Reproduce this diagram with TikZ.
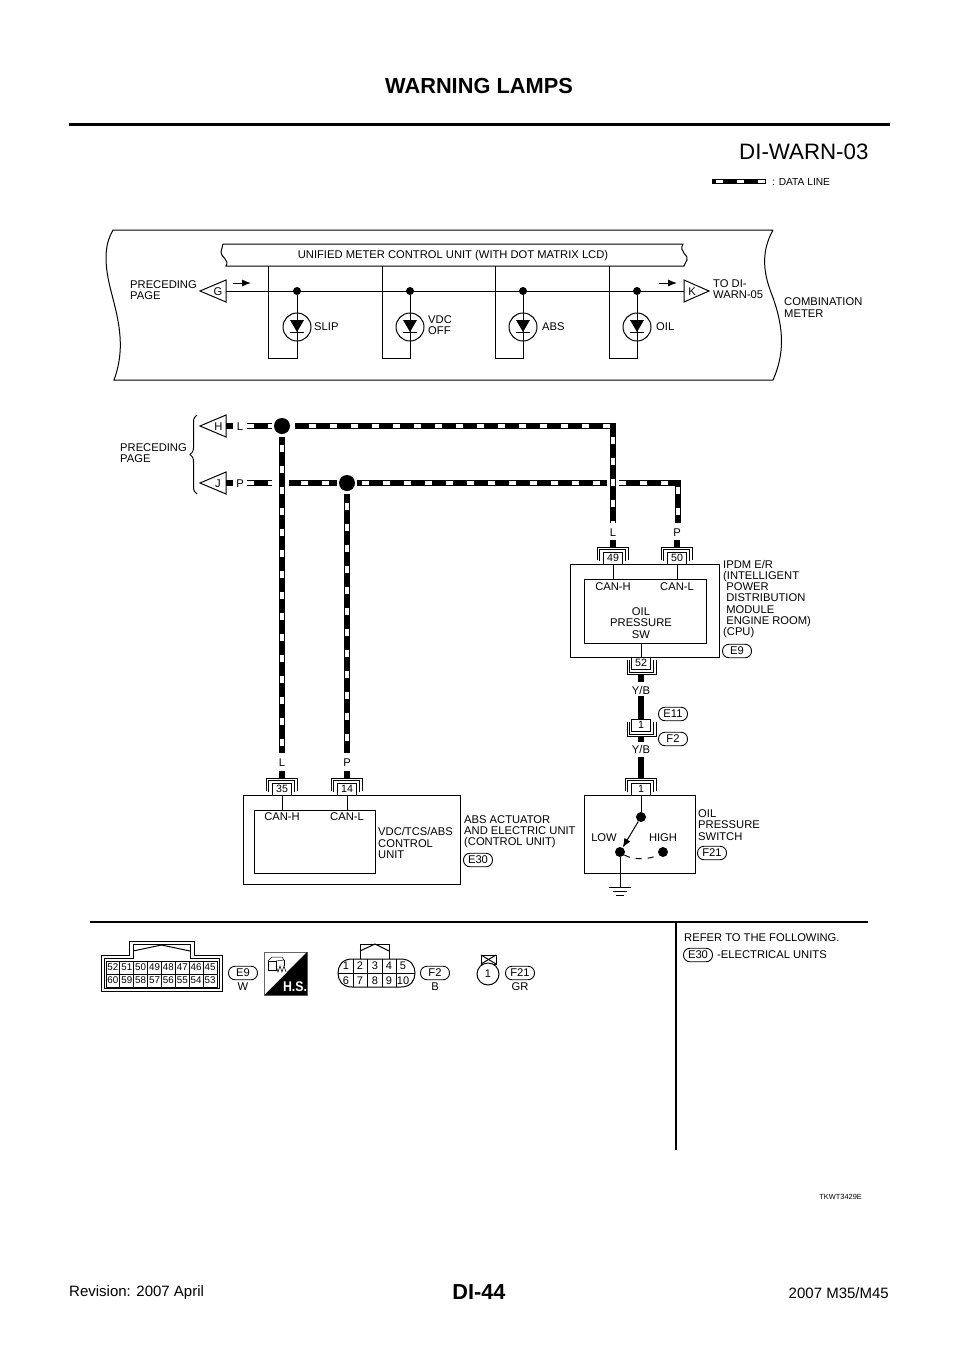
\documentclass[tikz,border=0pt]{standalone}
\usepackage{fontspec}
\setmainfont{Liberation Sans}
\usetikzlibrary{positioning,calc,arrows.meta,decorations.pathreplacing}
\tikzstyle{lab}= [inner sep=0pt, anchor=west, align=left, font=\fontsize{11.2}{11.2}\selectfont]
\tikzstyle{ctr}= [inner sep=0pt, align=center, font=\fontsize{11.2}{11.2}\selectfont]
\tikzstyle{tagoval}= [draw, rectangle, rounded corners=6.5pt, minimum width=29pt, minimum height=13.5pt, inner sep=0pt, font=\fontsize{11.2}{11.2}\selectfont, line width=0.9pt]
\tikzstyle{pin}= [draw, rectangle, minimum width=19pt, minimum height=12pt, inner sep=0pt, fill=white, font=\fontsize{10.6}{11}\selectfont, line width=0.9pt]
\tikzstyle{jdot}= [circle, fill=black, inner sep=0pt, minimum size=8pt]
\tikzstyle{sdot}= [circle, fill=black, inner sep=0pt, minimum size=10pt]
\tikzstyle{bigdot}= [circle, fill=black, inner sep=0pt, minimum size=16pt]
\tikzstyle{lamp}= [circle, draw, inner sep=0pt, minimum size=28pt, line width=1pt]
\tikzstyle{wire}= [line width=1pt]
\tikzstyle{frame}= [line width=1pt]
\tikzstyle{stub}= [line width=6pt]
\tikzstyle{dataline}[0]= [line width=6.6pt, postaction={draw=white, line width=4.4pt, dash pattern=on 7pt off 14pt, dash phase=#1}]
\tikzstyle{cell}= [inner sep=0pt, font=\fontsize{9.8}{10}\selectfont]
\begin{document}
\begin{tikzpicture}[x=1pt, y=-1pt]
	\useasboundingbox (0,0) rectangle (960,1358);
	% page head
	\node[inner sep=0pt, font=\fontsize{21.8}{24}\selectfont\bfseries] (title) at (479, 86) {WARNING LAMPS};
	\draw[line width=2.4pt] (69, 124.5) -- (890, 124.5);
	\node[inner sep=0pt, anchor=west, font=\fontsize{22.3}{24}\selectfont] (sheet) at (739, 152) {DI-WARN-03};
	\coordinate (legA) at (712, 181);
	\coordinate (legB) at (766, 181);
	\draw[line width=5pt, postaction={draw=white, line width=3pt, dash pattern=on 7pt off 14pt, dash phase=17}] (legA) -- (legB);
	\node[lab, font=\fontsize{10.2}{11}\selectfont] (legend) at (772, 181.5) {: DATA LINE};
	% combination meter
	\draw[frame] (773, 230) -- (113, 230)
		.. controls (106, 242) and (103, 258) .. (110, 287)
		.. controls (117, 315) and (127, 345) .. (114, 380)
		-- (773, 380)
		.. controls (784, 355) and (785, 330) .. (772, 295)
		.. controls (762, 270) and (762, 250) .. (773, 230);
	\draw[frame] (223, 244) -- (683, 244)
		.. controls (678, 252) and (690, 256) .. (687, 260)
		.. controls (686, 263) and (684, 264) .. (684, 266)
		-- (226, 266)
		.. controls (230, 260) and (220, 256) .. (221, 252)
		.. controls (221, 249) and (223, 247) .. (223, 244);
	\node[ctr] (unit) at (453, 256) {UNIFIED METER CONTROL UNIT (WITH DOT MATRIX LCD)};
	\draw[wire] (200, 291) -- (226, 280) -- (226, 302) -- cycle;
	\draw[wire] (709, 291) -- (684, 280) -- (684, 302) -- cycle;
	\node[ctr] (tagG) at (218, 291.5) {G};
	\node[ctr] (tagK) at (692, 291.5) {K};
	\coordinate (wireG) at (226, 291);
	\coordinate (wireK) at (684, 291);
	\draw[wire] (wireG) -- (wireK);
	\coordinate (arrGa) at (233, 283);
	\coordinate (arrGb) at (251, 283);
	\coordinate (arrKa) at (659, 283);
	\coordinate (arrKb) at (677, 283);
	\draw[wire, -{Latex[length=9pt,width=7pt]}] (arrGa) -- (arrGb);
	\draw[wire, -{Latex[length=9pt,width=7pt]}] (arrKa) -- (arrKb);
	\foreach \nm/\x/\xl in {slip/297/268, vdc/410/382, abs/523/495, oil/637/609}{
		\node[jdot] (d\nm) at (\x, 291) {};
		\node[lamp] (l\nm) at (\x, 327) {};
		\coordinate (f\nm) at (\x, 358);
		\coordinate (g\nm) at (\xl, 358);
		\coordinate (t\nm) at (\xl, 266);
		\draw[wire] (d\nm) -- (f\nm) -- (g\nm) -- (t\nm);
		\fill (\x-7, 320) -- (\x+7, 320) -- (\x, 332) -- cycle;
		\draw[wire] (\x-7, 332.5) -- (\x+7, 332.5);
	}
	\node[lab] (slip) at (314, 327) {SLIP};
	\node[lab] (vdcoff) at (428, 325.5) {VDC\\OFF};
	\node[lab] (absl) at (542, 327) {ABS};
	\node[lab] (oill) at (656, 327) {OIL};
	\node[lab] (precA) at (130, 290.5) {PRECEDING\\PAGE};
	\node[lab] (todi) at (713, 289.5) {TO DI-\\WARN-05};
	\node[lab] (combi) at (784, 307.5) {COMBINATION\\METER};
	% CAN lines
	\draw[wire] (200, 426) -- (226, 415) -- (226, 437) -- cycle;
	\draw[wire] (200, 483) -- (226, 472) -- (226, 494) -- cycle;
	\node[ctr] (tagH) at (218.5, 426.5) {H};
	\node[ctr] (tagJ) at (218, 483.5) {J};
	\draw[line width=1pt, decorate, decoration={brace, amplitude=7pt}] (197, 494) -- (197, 415);
	\node[lab] (precB) at (120, 453.5) {PRECEDING\\PAGE};
	\node[ctr] (lL) at (240, 426.5) {L};
	\node[ctr] (lP) at (240, 483.5) {P};
	\coordinate (stubHa) at (226, 426);
	\coordinate (stubHb) at (233, 426);
	\coordinate (stubJa) at (226, 483);
	\coordinate (stubJb) at (233, 483);
	\draw[stub] (stubHa) -- (stubHb);
	\draw[stub] (stubJa) -- (stubJb);
	\node[bigdot] (canH) at (282, 426) {};
	\node[bigdot] (canL) at (347, 483) {};
	\coordinate (hA) at (247, 426);
	\coordinate (hB) at (272, 426);
	\coordinate (hC) at (295, 426);
	\coordinate (hD) at (613, 426);
	\coordinate (hE) at (613, 523);
	\coordinate (pA) at (247, 483);
	\coordinate (pB) at (272, 483);
	\coordinate (pC) at (289, 483);
	\coordinate (pD) at (337, 483);
	\coordinate (pE) at (357, 483);
	\coordinate (pF) at (607, 483);
	\coordinate (pG) at (619, 483);
	\coordinate (pH) at (678, 483);
	\coordinate (pI) at (678, 523);
	\coordinate (vA) at (282, 437);
	\coordinate (vB) at (282, 753);
	\coordinate (vC) at (347, 494);
	\coordinate (vD) at (347, 753);
	\draw[dataline] (hA) -- (hB);
	\draw[dataline=7] (hC) -- (hD) -- (hE);
	\draw[dataline] (pA) -- (pB);
	\draw[dataline=9] (pC) -- (pD);
	\draw[dataline=16] (pE) -- (pF);
	\draw[dataline] (pG) -- (pH) -- (pI);
	\draw[dataline=13] (vA) -- (vB);
	\draw[dataline=12] (vC) -- (vD);
	% module frames
	\draw[frame] (570, 564) rectangle (719, 657);
	\draw[frame] (584, 579) rectangle (706, 643);
	\draw[frame] (243, 795) rectangle (460, 884);
	\draw[frame] (254, 810) rectangle (375, 873);
	\draw[frame] (584, 795) rectangle (695, 873);
	% harness connectors
	\foreach \nm/\x/\y/\n in {p49/613/564/49, p50/677/564/50, p35/282/795/35, p14/347/795/14, pF/641/795/1}{
		\draw[line width=0.9pt] (\x-16, \y-4) -- (\x-16, \y-17) -- (\x+15, \y-17) -- (\x+15, \y-4);
		\draw[line width=0.9pt] (\x-13.5, \y-3) -- (\x-13.5, \y-15) -- (\x+12.5, \y-15) -- (\x+12.5, \y-3);
		\node[pin] (\nm) at (\x, \y-6) {\n};
		\coordinate (c\nm) at (\x, \y-17);
		\coordinate (s\nm) at (\x, \y-24);
	}
	\foreach \nm/\x/\y/\n in {p52/641/657/52, pE/641/719/1}{
		\draw[line width=0.9pt] (\x-14, \y+3) -- (\x-14, \y+17) -- (\x+15, \y+17) -- (\x+15, \y+3);
		\draw[line width=0.9pt] (\x-11.5, \y+3) -- (\x-11.5, \y+15) -- (\x+12.5, \y+15) -- (\x+12.5, \y+3);
		\node[pin] (\nm) at (\x, \y+6) {\n};
		\coordinate (c\nm) at (\x, \y+17);
	}
	\node[ctr] (wL1) at (613, 532.5) {L};
	\node[ctr] (wP1) at (677, 532.5) {P};
	\node[ctr] (wL2) at (282, 763) {L};
	\node[ctr] (wP2) at (347, 763) {P};
	\foreach \nm in {p49, p50, p35, p14}{
		\draw[stub] (s\nm) -- (c\nm);
	}
	\coordinate (b52) at (641, 682);
	\draw[stub] (cp52) -- (b52);
	\node[ctr] (yb1) at (641, 690) {Y/B};
	\coordinate (t1a) at (641, 696);
	\coordinate (t1b) at (641, 719);
	\draw[stub] (t1a) -- (t1b);
	\coordinate (b1a) at (641, 742);
	\draw[stub] (cpE) -- (b1a);
	\node[ctr] (yb2) at (641, 749) {Y/B};
	\coordinate (t2a) at (641, 757);
	\draw[stub] (t2a) -- (cpF);
	\node[tagoval] (ovE11) at (673, 714) {E11};
	\node[tagoval] (ovF2) at (673, 739) {F2};
	% IPDM E/R
	\coordinate (in49) at (613, 579);
	\coordinate (in50) at (677, 579);
	\coordinate (in52) at (641, 643);
	\draw[wire] (p49) -- (in49);
	\draw[wire] (p50) -- (in50);
	\draw[wire] (in52) -- (p52);
	\node[ctr] (canHa) at (613, 587) {CAN-H};
	\node[ctr] (canLa) at (677, 587) {CAN-L};
	\node[ctr] (oilsw) at (641, 623) {OIL\\PRESSURE\\SW};
	\node[lab, font=\fontsize{11.2}{11.3}\selectfont] (ipdm) at (723, 599) {IPDM E/R\\(INTELLIGENT\\\ POWER\\\ DISTRIBUTION\\\ MODULE\\\ ENGINE ROOM)\\(CPU)};
	\node[tagoval] (ovE9) at (737, 651) {E9};
	% ABS actuator
	\coordinate (in35) at (282, 810);
	\coordinate (in14) at (347, 810);
	\draw[wire] (p35) -- (in35);
	\draw[wire] (p14) -- (in14);
	\node[ctr] (canHb) at (282, 817) {CAN-H};
	\node[ctr] (canLb) at (347, 817) {CAN-L};
	\node[lab] (vdctcs) at (378, 843) {VDC/TCS/ABS\\CONTROL\\UNIT};
	\node[lab] (absact) at (464, 832) {ABS ACTUATOR\\AND ELECTRIC UNIT\\(CONTROL UNIT)};
	\node[tagoval] (ovE30) at (478, 860) {E30};
	% oil pressure switch
	\node[sdot] (swTop) at (641, 817) {};
	\node[sdot] (swLow) at (620, 852) {};
	\node[sdot] (swHigh) at (663, 852) {};
	\draw[wire] (pF) -- (swTop);
	\draw[wire, -{Latex[length=9pt,width=7pt]}] (swTop) -- (swLow);
	\draw[wire, dash pattern=on 6pt off 6pt] (swLow) .. controls (632, 860) and (650, 860) .. (swHigh);
	\coordinate (gnd) at (620, 887);
	\draw[wire] (swLow) -- (gnd);
	\draw[wire] (609, 887) -- (631, 887);
	\draw[wire] (613, 891) -- (627, 891);
	\draw[wire] (616, 895) -- (624, 895);
	\node[ctr] (low) at (604, 838) {LOW};
	\node[ctr] (high) at (663, 838) {HIGH};
	\node[lab] (oilps) at (698, 825) {OIL\\PRESSURE\\SWITCH};
	\node[tagoval] (ovF21) at (712, 853) {F21};
	% connector faces
	\draw[line width=1.1pt] (90, 922) -- (868, 922);
	\draw[line width=1.1pt] (676, 922) -- (676, 1150);
	\draw[line width=1pt] (101, 955) -- (129, 955) -- (129, 941) -- (194, 941) -- (194, 955) -- (222, 955) -- (222, 991) -- (101, 991) -- cycle;
	\draw[line width=1pt] (104, 958) -- (133, 958) -- (133, 944) -- (190, 944) -- (190, 958) -- (219, 958) -- (219, 988) -- (104, 988) -- cycle;
	\draw[line width=1pt] (133, 951) -- (161.5, 945) -- (190, 951);
	\draw[line width=0.8pt] (106, 961) rectangle (217, 987);
	\draw[line width=0.8pt] (106, 974) -- (217, 974);
	\foreach \i in {1,...,7}{
		\draw[line width=0.8pt] (106+\i*13.875, 961) -- (106+\i*13.875, 987);
	}
	\foreach \i/\a/\b in {0/52/60, 1/51/59, 2/50/58, 3/49/57, 4/48/56, 5/47/55, 6/46/54, 7/45/53}{
		\node[cell] (up\a) at (112.9+\i*13.875, 967.5) {\a};
		\node[cell] (lo\b) at (112.9+\i*13.875, 980.5) {\b};
	}
	\node[tagoval] (ovE9b) at (243, 973) {E9};
	\node[ctr] (colW) at (243, 987) {W};
	\draw[line width=0.6pt, draw=black!60] (264.5, 952) rectangle (307, 995);
	\fill (307, 952) -- (307, 995) -- (264.5, 995) -- cycle;
	\node[inner sep=0pt, text=white, xscale=0.88, font=\fontsize{14}{14}\selectfont\bfseries] (hs) at (295, 987) {H.S.};
	% harness icon
	\draw[line width=0.5pt] (268, 961) rectangle (276, 970);
	\draw[line width=0.5pt] (268, 961) -- (272, 957) -- (282, 957) -- (284, 960) -- (276, 961);
	\draw[line width=0.5pt] (284, 960) -- (284, 966);
	\draw[line width=0.5pt] (276, 966) -- (278, 972) -- (280, 966) -- (282, 972) -- (284, 966) -- (286, 972);
	\draw[line width=1pt] (360, 959) -- (360, 944) -- (389, 944) -- (389, 959);
	\draw[line width=1pt] (360, 951) -- (375, 944) -- (389, 951);
	\draw[line width=1pt] (352, 959) -- (401, 959)
		.. controls (411, 959) and (415, 966) .. (415, 973)
		.. controls (415, 980) and (411, 987) .. (401, 987)
		-- (352, 987)
		.. controls (342, 987) and (338, 980) .. (338, 973)
		.. controls (338, 966) and (342, 959) .. (352, 959);
	\draw[line width=0.9pt] (338, 973) -- (415, 973);
	\foreach \x in {353, 367, 382, 396}{
		\draw[line width=0.9pt] (\x, 959) -- (\x, 987);
	}
	\foreach \x/\a/\b in {346/1/6, 360/2/7, 375/3/8, 389/4/9, 403/5/10}{
		\node[cell, font=\fontsize{11}{11}\selectfont] (fa\a) at (\x, 966) {\a};
		\node[cell, font=\fontsize{11}{11}\selectfont] (fb\b) at (\x, 980.5) {\b};
	}
	\node[tagoval] (ovF2b) at (435, 973) {F2};
	\node[ctr] (colB) at (435, 987) {B};
	\draw[line width=1pt] (481, 955) rectangle (496, 964);
	\draw[line width=1pt] (481, 955) -- (496, 964);
	\draw[line width=1pt] (496, 955) -- (481, 964);
	\node[circle, draw, fill=white, line width=1pt, minimum size=22pt, inner sep=0pt, font=\fontsize{11}{11}\selectfont] (f21pin) at (488, 974) {1};
	\node[tagoval] (ovF21b) at (520, 973) {F21};
	\node[ctr] (colGR) at (520, 987) {GR};
	\node[lab] (refer) at (684, 938) {REFER TO THE FOLLOWING.};
	\node[tagoval] (ovE30b) at (698, 955) {E30};
	\node[lab] (elec) at (717, 955) {-ELECTRICAL UNITS};
	% page foot
	\node[inner sep=0pt, anchor=east, font=\fontsize{7.4}{9}\selectfont] (fig) at (862, 1197) {TKWT3429E};
	\node[inner sep=0pt, font=\fontsize{21.7}{24}\selectfont\bfseries] (pageno) at (479, 1292) {DI-44};
	\node[inner sep=0pt, anchor=west, font=\fontsize{15}{17}\selectfont] (rev) at (69, 1293) {Revision: 2007 April};
	\node[inner sep=0pt, anchor=east, font=\fontsize{15}{17}\selectfont] (model) at (889, 1293) {2007 M35/M45};
\end{tikzpicture}
\end{document}
